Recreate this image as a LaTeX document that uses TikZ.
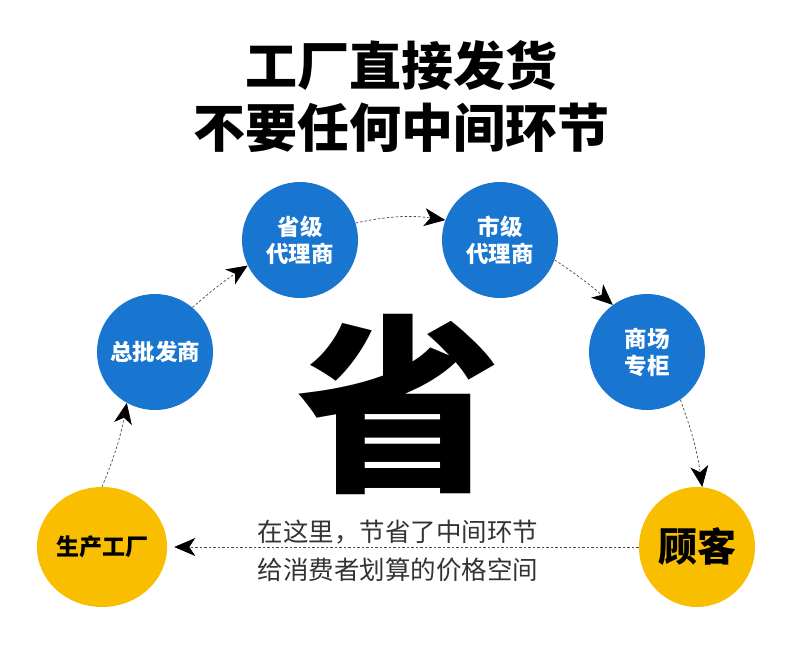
\documentclass[tikz,border=0pt]{standalone}
\usepackage{fontspec}
\newfontfamily\cjk{Noto Sans CJK SC}
\usetikzlibrary{arrows.meta,shapes.geometric}
\definecolor{cblue}{RGB}{24,118,208}
\definecolor{cyel}{RGB}{250,190,0}
\tikzset{
  bluec/.style={circle,fill=cblue,minimum size=116pt,inner sep=0pt,text=white,
    font=\cjk\bfseries\fontsize{22.5}{27}\selectfont,align=center},
  yelc/.style={ellipse,fill=cyel,minimum width=116pt,minimum height=120pt,inner sep=0pt,
    text=black,align=center},
  flow/.style={draw=black!70,dash pattern=on 2.5pt off 2pt,line width=0.7pt,
    -{Stealth[length=21pt,width=18pt,inset=6pt,color=black]}},
  titlet/.style={font=\cjk\bfseries\fontsize{52}{52}\selectfont,inner sep=0pt},
}
\begin{document}
\begin{tikzpicture}[x=1pt,y=-1pt]
\fill[white] (0,0) rectangle (790,649);
\useasboundingbox (0,0) rectangle (790,649);

\node[titlet] (t1) at (401,66) {工厂直接发货};
\node[titlet] (t2) at (401,128) {不要任何中间环节};

\node[font=\cjk\bfseries\fontsize{190}{190}\selectfont,inner sep=0pt,xscale=1.08] (big) at (399,404) {省};

\node[bluec] (zp) at (155,352) {总批发商};
\node[bluec] (sj) at (300,240) {省级\\代理商};
\node[bluec] (shj) at (500,240) {市级\\代理商};
\node[bluec] (sc) at (647,352) {商场\\专柜};
\node[yelc,font=\cjk\bfseries\fontsize{23}{26}\selectfont] (gc) at (102,547) {生产工厂};
\node[yelc,font=\cjk\bfseries\fontsize{39}{40}\selectfont] (gk) at (697,547) {顾客};

\node[font=\cjk\fontsize{25.5}{38}\selectfont,text=black!80,align=center,inner sep=0pt] (note) at (398,551)
  {在这里，节省了中间环节\\给消费者划算的价格空间};

\draw[flow] (gc.north) to[bend right=6] (zp.241);
\draw[flow] (zp.50) to[bend left=4] (sj.206);
\draw[flow] (sj.17) to[bend left=10] (shj.160);
\draw[flow] (shj.340) to[bend left=4] (sc.126);
\draw[flow] (sc.305) to[bend left=6] (gk.85);
\draw[flow,shorten >=7pt] (gk.west) -- (gc.east);
\end{tikzpicture}
\end{document}
